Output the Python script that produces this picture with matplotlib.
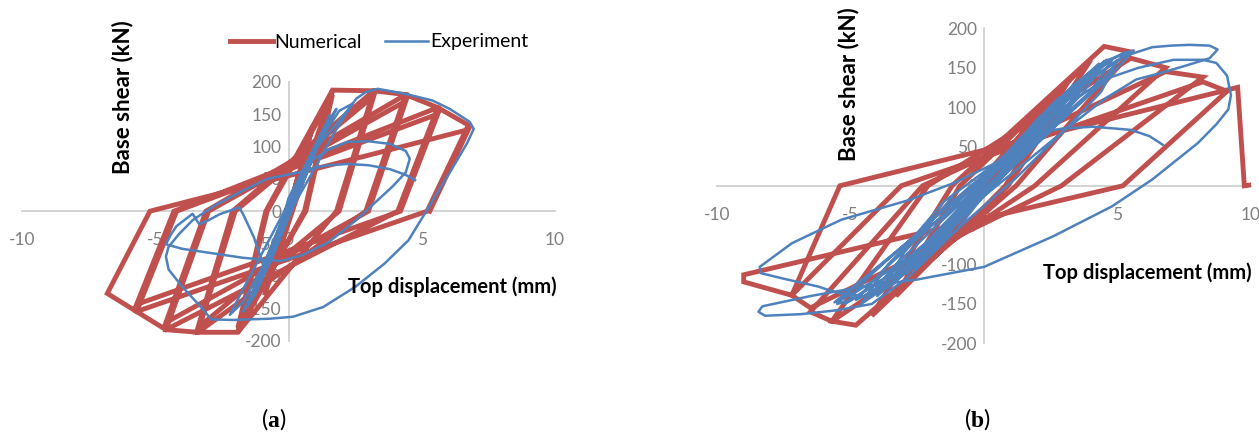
import matplotlib
matplotlib.use('Agg')
import matplotlib.pyplot as plt
from matplotlib.lines import Line2D

# ---------------- data ----------------
# panel (a): numerical model (mm, kN)
num_a_disp = [0, 0.4, -0.4, 0.9, -0.9, 1.65, 0.6, -1.9, -0.8, 1.65, 0.65, -1.9, -0.85,
              1.65, 3.2, 1.8, -1.9, -3.4, -2.0, 3.2, 1.9, -3.4, -2.1,
              3.2, 4.4, 2.9, -3.4, -4.6, -3.0, 4.4, 3.0, -4.6, -3.1,
              4.4, 5.6, 4.1, -4.6, -5.7, -4.2, 5.6, 4.2, -5.7, -4.3,
              5.6, 6.75, 5.2, -5.7, -6.8, -5.2, 6.75, 5.3]
num_a_shear = [0, 60, -60, 130, -130, 187, 0, -187, 0, 180, 0, -180, 0,
               187, 186, 0, -187, -187, 0, 178, 0, -180, 0,
               186, 180, 0, -187, -183, 0, 170, 0, -172, 0,
               180, 160, 0, -183, -155, 0, 150, 0, -144, 0,
               160, 133, 0, -155, -127, 0, 126, 0]

# panel (a): experiment
exp_a_disp = [0, 0.3, 0.6, 0.35, -0.3, -0.6, -0.35,
              0.1, 0.5, 0.8, 0.5, -0.1, -0.5, -0.8, -0.5,
              0.0, 0.7, 1.0, 0.65, 0.0, -0.6, -1.0, -0.65,
              0.05, 0.7, 1.2, 0.8, 0.1, -0.6, -1.2, -0.8,
              0.0, 0.8, 1.4, 1.55, 1.05, 0.3, -0.5, -1.2, -1.55, -1.1, -0.4,
              0.3, 0.8, 1.5, 2.2, 3.0, 3.8, 4.4, 4.55, 4.4, 3.9, 3.4, 2.5, 1.5, 0.5,
              -0.3, -1.7, -3.0, -4.0, -4.6, -4.4, -4.2, -3.6, -3.35, -3.0, -2.6, -1.85, -1.7,
              -1.3, -0.9, -0.4, 0.4, 1.2, 1.9, 2.4, 1.7, 0.9, 0.0, -0.9, -1.7, -2.2, -1.7, -0.8,
              0.1, 0.9, 1.5, 1.8, 1.3, 0.5, -0.4, -1.2, -1.7, -1.3, -0.5,
              0.0, 0.8, 1.6, 2.2, 2.55, 2.9, 3.35, 4.4, 5.4, 6.05, 6.8, 6.95, 6.7, 6.1, 5.6, 5.2,
              4.5, 3.6, 2.5, 1.3, 0.17, -0.7, -2.1, -2.9, -3.2, -4.0, -4.5, -4.6, -4.5, -4.1,
              -3.6, -2.8, -1.8, -0.8, 0.4, 1.3, 2.2, 3.0, 3.8, 4.4, 4.75]
exp_a_shear = [0, 30, 55, 25, -30, -55, -25,
               15, 50, 80, 40, -15, -50, -82, -42,
               5, 70, 100, 55, -5, -65, -100, -60,
               10, 75, 118, 70, 0, -70, -120, -75,
               5, 85, 135, 148, 95, 20, -60, -125, -148, -100, -30,
               40, 76, 95, 107, 108, 104, 93, 81, 60, 38, 19, -15, -48, -68,
               -77, -72, -64, -58, -51, -35, -23, -4, -20, -14, -5, 6, -5,
               -40, -90, -40, 40, 110, 155, 166, 120, 60, -5, -80, -140, -160, -120, -50,
               20, 90, 140, 158, 118, 50, -30, -110, -155, -125, -55,
               20, 85, 125, 155, 174, 184, 189, 181, 171, 158, 138, 127, 105, 63, 30, 2,
               -45, -81, -117, -148, -163, -166, -168, -167, -152, -116, -90, -70, -55, -35,
               -14, 8, 30, 50, 60, 70, 73, 71, 65, 56, 48]

# panel (b): numerical model
num_b_disp = [0, 0.8, -0.8, 1.5, -1.5, 2.3, 0.2, -2.3, -0.3, 3.2, 0.8, -3.3, -0.9,
              4.0, 0.9, -4.2, -1.2,
              4.5, 5.5, 1.2, -4.8, -5.7, -2.1,
              5.5, 6.8, 1.9, -5.7, -6.5, -2.3,
              6.8, 8.2, 2.9, -6.5, -7.2, -3.1,
              8.2, 9.1, 5.2, -9.0, -9.0, -7.2, -5.4,
              9.5, 9.75, 10.2]
num_b_shear = [0, 35, -40, 70, -75, 100, 0, -105, 0, 135, 0, -140, 0,
               160, 0, -165, 0,
               177, 170, 0, -177, -172, 0,
               162, 150, 0, -172, -160, 0,
               145, 138, 0, -155, -139, 0,
               132, 120, 0, -113, -122, -139, 0,
               125, 0, 2]

# panel (b): experiment
exp_b_disp = [0, 0.5, 1.0, 0.5, -0.5, -1.0, -0.5,
              0.3, 1.2, 1.8, 1.0, 0.0, -1.2, -1.8, -1.0,
              0.2, 1.5, 2.6, 1.6, 0.3, -1.5, -2.6, -1.6,
              0.0, 1.6, 2.8, 1.9, 0.5, -1.3, -2.9, -2.0,
              0.0, 1.8, 3.4, 2.2, 0.6, -1.5, -3.4, -2.4,
              -0.4, 1.5, 3.6, 2.6, 0.9, -1.2, -3.6, -2.7,
              -0.8, 1.2, 3.0, 4.3, 3.2, 1.5, -0.5, -2.8, -4.3, -3.3, -1.6,
              0.0, 2.0, 3.8, 4.6, 3.7, 1.8, -0.2, -2.4, -4.2, -4.8, -3.8, -2.0,
              0.5, 2.5, 4.2, 5.3, 4.2, 2.5, 0.5, -1.8, -3.8, -5.2, -4.3, -2.5,
              -0.5, 1.5, 3.8, 5.0, 4.4, 3.0, 1.2, -1.0, -3.3, -4.6, -3.6, -2.0,
              0.0, 2.2, 4.5, 5.6, 4.6, 2.8, 0.8, -1.5, -3.5, -5.0, -5.5, -4.5, -2.7,
              -1.5, 0.5, 2.5, 4.0, 3.2, 1.6, -0.4, -2.2, -4.0, -3.0, -1.2,
              -1.0, 1.0, 3.0, 4.8, 4.0, 2.2, 0.2, -1.8, -3.8, -4.5,
              -5.5, -6.2, -7.5, -8.35, -8.4, -7.2, -5.34, -2.8, -1.1,
              0.5, 2.0, 3.5, 5.3, 6.3, 7.0, 7.7, 8.45, 8.75, 8.45, 7.5, 6.7, 5.7, 4.5,
              3.0, 1.2, -0.8, -3.0, -4.8, -5.6, -4.6, -2.8, -0.8,
              1.5, 3.0, 4.5, 5.8, 7.1, 8.2, 8.7, 9.1, 9.25, 9.15, 8.7, 8.0, 6.3, 4.8,
              2.6, 0.0, -2.5, -4.7, -6.5, -8.3, -8.45, -8.2, -6.85, -5.5, -4.2,
              -2.8, -1.0, 0.5, 1.9, 3.0, 4.1, 5.5, 6.2, 6.7]
exp_b_shear = [0, 20, 40, 12, -22, -42, -15,
               15, 55, 75, 35, -10, -55, -78, -38,
               10, 65, 105, 55, 0, -65, -105, -58,
               5, 68, 112, 68, 12, -55, -112, -72,
               0, 75, 130, 75, 10, -60, -125, -80,
               -10, 62, 135, 88, 20, -50, -130, -92,
               -25, 50, 115, 155, 105, 40, -30, -100, -140, -100, -45,
               5, 85, 140, 160, 118, 50, -20, -88, -135, -145, -108, -52,
               25, 100, 150, 170, 125, 70, 5, -65, -120, -150, -115, -60,
               0, 55, 130, 160, 120, 70, 10, -55, -120, -150, -100, -45,
               10, 90, 158, 172, 135, 80, 15, -55, -112, -145, -150, -118, -68,
               -20, 30, 90, 140, 100, 45, -20, -85, -140, -85, -15,
               -20, 45, 115, 160, 120, 65, 0, -70, -125, -140,
               -136, -128, -118, -111, -103, -73, -43, -18, 4,
               30, 80, 125, 165, 176, 178, 179, 178, 173, 162, 152, 144, 135, 110,
               70, 20, -35, -95, -135, -148, -120, -70, -20,
               55, 100, 135, 150, 160, 160, 156, 140, 115, 97, 78, 54, 8, -26,
               -64, -103, -119, -129, -140, -153, -160, -165, -163, -158, -150,
               -115, -55, 10, 67, 73, 75, 71, 63, 52]

x_ticks = [-10, -5, 0, 5, 10]
y_ticks = [-200, -150, -100, -50, 0, 50, 100, 150, 200]

RED = '#C0504D'
BLUE = '#4F81BD'
GRAY = '#7F7F7F'
AXIS = '#D0D0D0'

plt.rcParams['font.family'] = ['Lato', 'DejaVu Sans']
plt.rcParams['axes.unicode_minus'] = False
plt.rcParams['mathtext.fontset'] = 'custom'
plt.rcParams['mathtext.rm'] = 'Liberation Serif'
plt.rcParams['mathtext.bf'] = 'Liberation Serif:bold'

W, H = 1259, 432
fig = plt.figure(figsize=(W / 100, H / 100), dpi=100)


def px_box(left, right, top, bottom):
    # pixel edges -> figure fraction
    return [left / W, 1 - bottom / H, (right - left) / W, (bottom - top) / H]


def setup(ax):
    ax.set_xlim(-10, 10)
    ax.set_ylim(-200, 200)
    ax.set_facecolor('none')
    for s in ['top', 'right']:
        ax.spines[s].set_visible(False)
    ax.spines['left'].set_position(('data', 0))
    ax.spines['bottom'].set_position(('data', 0))
    for s in ['left', 'bottom']:
        ax.spines[s].set_color(AXIS)
        ax.spines[s].set_linewidth(1.3)
        ax.spines[s].set_zorder(0)
    ax.set_xticks(x_ticks)
    ax.set_yticks(y_ticks)
    ax.tick_params(axis='x', length=0, pad=15, labelsize=12.5, labelcolor=GRAY)
    ax.tick_params(axis='y', length=0, pad=5, labelsize=12.5, labelcolor=GRAY)


ax_a = fig.add_axes(px_box(22, 555, 81.7, 340.7))
setup(ax_a)
ax_a.plot(num_a_disp, num_a_shear, color=RED, lw=3.5, solid_joinstyle='miter', zorder=2)
ax_a.plot(exp_a_disp, exp_a_shear, color=BLUE, lw=1.8, zorder=3)

ax_b = fig.add_axes(px_box(717, 1251, 28.3, 343.3))
setup(ax_b)
ax_b.plot(num_b_disp, num_b_shear, color=RED, lw=3.5, solid_joinstyle='miter', zorder=2)
ax_b.plot(exp_b_disp, exp_b_shear, color=BLUE, lw=1.8, zorder=3)

# axis titles (the source image is stretched vertically, so the rotated one is larger)
fig.text(123 / W, 1 - 97 / H, 'Base shear (kN)', rotation=90, fontsize=16,
         fontweight='bold', ha='center', va='center')
fig.text(452 / W, 1 - 287 / H, 'Top displacement (mm)', fontsize=14.5,
         fontweight='bold', ha='center', va='center')
fig.text(849 / W, 1 - 84 / H, 'Base shear (kN)', rotation=90, fontsize=16,
         fontweight='bold', ha='center', va='center')
fig.text(1147 / W, 1 - 273 / H, 'Top displacement (mm)', fontsize=14.5,
         fontweight='bold', ha='center', va='center')

handles = [Line2D([], [], color=RED, lw=3.5), Line2D([], [], color=BLUE, lw=1.8)]
fig.legend(handles, ['Numerical', 'Experiment'], loc='center',
           bbox_to_anchor=(379 / W, 1 - 42 / H), ncol=2, frameon=False,
           fontsize=14, handlelength=2.2, handletextpad=0.1, columnspacing=1.2)

fig.text(274 / W, 1 - 419 / H, r'($\mathbf{a}$)', fontsize=17, ha='center', va='center')
fig.text(977 / W, 1 - 419 / H, r'($\mathbf{b}$)', fontsize=17, ha='center', va='center')

fig.savefig('out.png', dpi=100, facecolor='white')
